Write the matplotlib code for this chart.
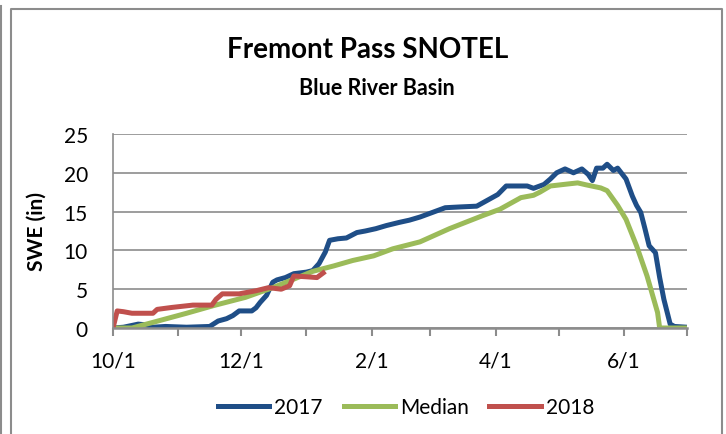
import numpy as np
import matplotlib
matplotlib.use('Agg')
import matplotlib.pyplot as plt
from matplotlib.lines import Line2D

plt.rcParams['font.family'] = ['Lato', 'DejaVu Sans']

# days since 10/1 for month starts (10/1 ... 7/1)
month_days = [0, 31, 61, 92, 123, 151, 182, 212, 243, 273]
month_labels = ['10/1', '', '12/1', '', '2/1', '', '4/1', '', '6/1', '']

median_day = [0, 9, 20, 35, 48, 63, 76, 86, 95, 105, 114, 124, 133, 146, 160, 176, 184, 194,
              200, 203, 208, 216, 221, 225, 232, 235, 240, 244, 249, 254, 259, 260, 273]
median_swe = [0, 0, 0.8, 1.9, 2.9, 3.95, 5.2, 6.3, 7.3, 8.0, 8.7, 9.3, 10.2, 11.1, 12.8, 14.5, 15.3, 16.8,
              17.1, 17.5, 18.3, 18.55, 18.7, 18.45, 18.05, 17.7, 15.8, 14.0, 10.6, 6.7, 2.0, 0, 0]

wy2017_day = [0, 5, 12, 16, 19, 25, 35, 46, 50, 54, 57, 60, 66, 68, 70, 73, 76, 78, 82, 86,
              92, 95, 98, 101, 103, 107, 111, 116, 120, 125, 130, 136, 141, 146, 152, 158, 165, 173, 179, 183,
              187, 192, 197, 200, 205, 208, 211, 215, 219, 223, 226, 228, 230, 233, 235, 238, 240, 244, 247, 249,
              251, 253, 255, 258, 260, 262, 265, 267, 273]
wy2017_swe = [0, 0.1, 0.5, 0.4, 0.1, 0.2, 0.1, 0.2, 0.9, 1.2, 1.6, 2.2, 2.2, 2.6, 3.3, 4.2, 5.9, 6.2, 6.5, 7.0,
              7.2, 7.4, 8.3, 9.8, 11.3, 11.5, 11.6, 12.3, 12.5, 12.8, 13.2, 13.6, 13.9, 14.3, 14.9, 15.5, 15.6, 15.7, 16.6, 17.2,
              18.3, 18.3, 18.3, 18.0, 18.5, 19.2, 20.0, 20.5, 20.0, 20.5, 19.8, 19.0, 20.6, 20.6, 21.1, 20.3, 20.6, 19.2, 17.0, 15.8,
              14.9, 12.8, 10.6, 9.7, 6.5, 3.7, 0.5, 0.2, 0.1]

wy2018_day = [0, 2, 5, 9, 19, 21, 28, 38, 47, 49, 52, 60, 68, 74, 80, 84, 86, 92, 97, 100]
wy2018_swe = [0, 2.2, 2.1, 1.9, 1.9, 2.4, 2.65, 2.95, 2.95, 3.7, 4.4, 4.4, 4.8, 5.2, 5.0, 5.45, 6.7, 6.6, 6.5, 7.1]

W, H = 726, 435
fig = plt.figure(figsize=(W / 100, H / 100), dpi=100)
ax = fig.add_axes([113 / W, 1 - 329 / H, 574 / W, 194 / H])

grey = '#8c8c8c'
ax.plot(wy2017_day, wy2017_swe, color='#1f4e87', lw=3.6, label='2017', solid_joinstyle='round')
ax.plot(median_day, median_swe, color='#9bbb59', lw=3.6, label='Median', solid_joinstyle='round')
ax.plot(wy2018_day, wy2018_swe, color='#c0504d', lw=3.6, label='2018', solid_joinstyle='round')

ax.set_xlim(0, 273)
ax.set_ylim(0, 25)
ax.set_yticks(np.arange(0, 26, 5))
ax.set_xticks(month_days)
ax.set_xticklabels(month_labels)
ax.yaxis.grid(True, color=grey, lw=1.2)
ax.set_axisbelow(True)
for s in ['top', 'right']:
    ax.spines[s].set_visible(False)
ax.spines['left'].set_color(grey)
ax.spines['left'].set_linewidth(1.2)
ax.spines['bottom'].set_color(grey)
ax.spines['bottom'].set_linewidth(1.8)
ax.tick_params(axis='y', length=0, labelsize=15, pad=18)
ax.tick_params(axis='x', length=6, width=1.5, color=grey, labelsize=15, pad=10)
ax.set_ylabel('SWE (in)', fontsize=15, fontweight='bold', labelpad=12)

fig.text(368 / W, 1 - 58 / H, 'Fremont Pass SNOTEL', ha='center', va='baseline',
         fontsize=20, fontweight='bold')
fig.text(377 / W, 1 - 95 / H, 'Blue River Basin', ha='center', va='baseline',
         fontsize=15.5, fontweight='bold')

fig.legend(loc='center', bbox_to_anchor=(406 / W, 1 - 408 / H), ncol=3, frameon=False,
           fontsize=15, handlelength=2.45, handletextpad=0.25, columnspacing=1.0)

# chart frame
fig.add_artist(Line2D([1 / W, 1 / W], [0, 1 - 7 / H], color=grey, lw=1.5))
fig.add_artist(Line2D([11 / W, 11 / W, 722 / W, 722 / W], [0, 1 - 10 / H, 1 - 10 / H, 0],
                      color=grey, lw=1.5))

fig.savefig('out.png', dpi=100)
